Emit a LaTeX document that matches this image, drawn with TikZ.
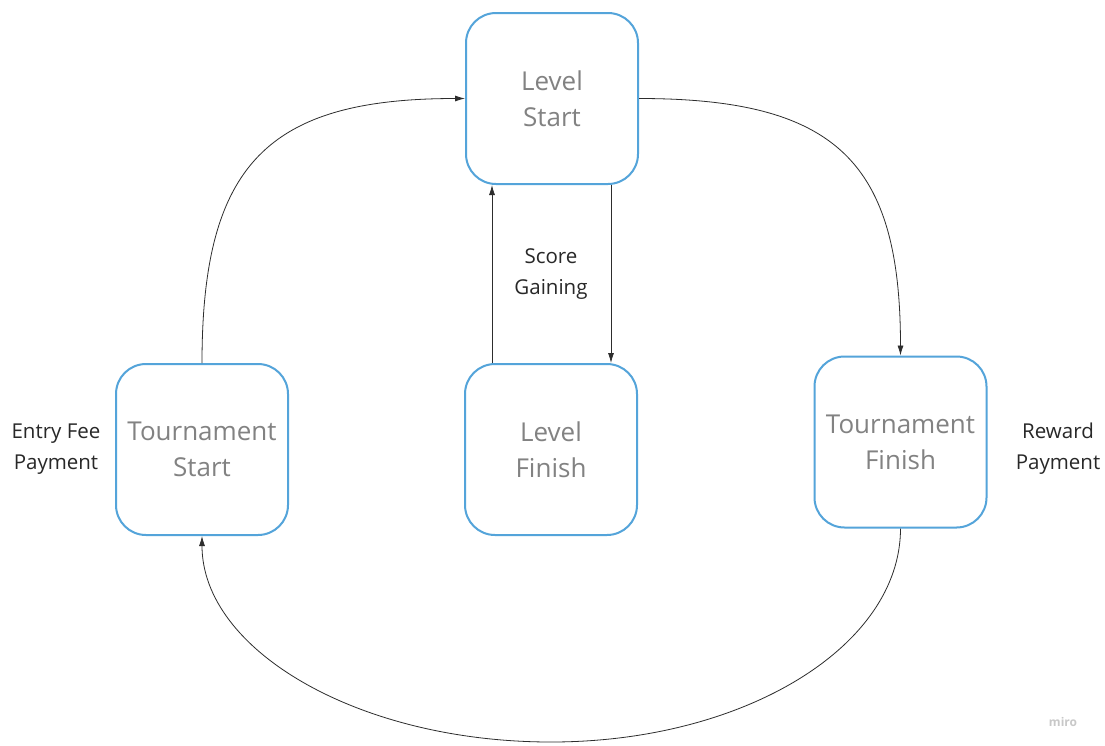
\documentclass[tikz,border=0pt]{standalone}
\usepackage{fontspec}
\setmainfont{Open Sans}
\usetikzlibrary{arrows.meta}
\definecolor{boxblue}{RGB}{84,164,218}
\definecolor{boxtext}{RGB}{130,130,130}
\definecolor{lbl}{RGB}{40,40,40}
\definecolor{edge}{RGB}{45,45,45}
\definecolor{mirogray}{RGB}{200,200,200}
\begin{document}
\begin{tikzpicture}[x=1pt,y=-1pt,
  statebox/.style={draw=boxblue,line width=2pt,rounded corners=30pt,
    minimum width=172pt,minimum height=171pt,inner sep=0pt,align=center,
    text=boxtext,font=\fontsize{26}{36}\selectfont},
  lbltext/.style={align=center,text=lbl,font=\fontsize{20.5}{31}\selectfont},
  conn/.style={draw=edge,line width=0.8pt,-{Latex[length=10pt,width=6pt]}}]
\useasboundingbox[fill=white] (0,0) rectangle (1105,745);
\node[statebox] (ls) at (552,98.5) {Level\\Start};
\node[statebox] (ts) at (202,449.5) {Tournament\\Start};
\node[statebox] (lf) at (551,449.5) {Level\\Finish};
\node[statebox] (tf) at (900.5,442) {Tournament\\Finish};
\node[lbltext] (entry) at (56,449) {Entry Fee\\Payment};
\node[lbltext] (reward) at (1058,449) {Reward\\Payment};
\node[lbltext] (score) at (551,274) {Score\\Gaining};
\node[text=mirogray,font=\bfseries\fontsize{12}{12}\selectfont] (miro) at (1063,722) {miro};
\coordinate (bot) at (551,742);
\draw[conn] (ts.north) .. controls +(0,-199) and +(-197,0) .. (ls.west);
\draw[conn] (ls.east) .. controls +(198,0) and +(0,-193) .. (tf.north);
\draw[conn] ([xshift=-59pt]lf.north) -- ([xshift=-60pt]ls.south);
\draw[conn] ([xshift=59pt]ls.south) -- ([xshift=60pt]lf.north);
\draw[conn] (tf.south) .. controls +(0,118) and +(193,0) .. (bot)
  .. controls +(-193,0) and +(0,114) .. (ts.south);
\end{tikzpicture}
\end{document}
